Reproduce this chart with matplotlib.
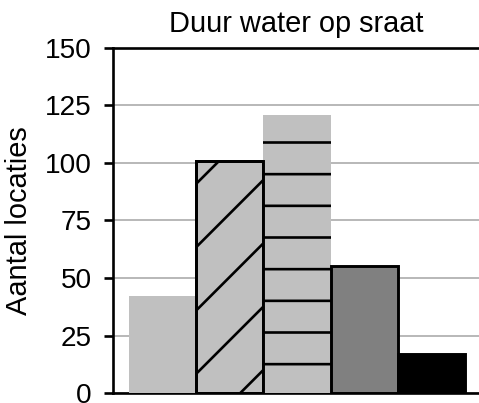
import matplotlib
matplotlib.use("Agg")
import matplotlib.pyplot as plt

categories = ["A", "B", "C", "D", "E"]
values = [42, 101, 121, 55, 17]
yticks = [0, 25, 50, 75, 100, 125, 150]
title = "Duur water op sraat"
ylabel = "Aantal locaties"

DPI = 380
plt.rcParams['font.family'] = ['Liberation Sans', 'DejaVu Sans']
plt.rcParams['hatch.linewidth'] = 0.5

fig = plt.figure(figsize=(479 / DPI, 403 / DPI), dpi=DPI)
ax = fig.add_axes([113 / 479, 10 / 403, 366 / 479, 345 / 403])

x = list(range(len(categories)))
faces = ['#c0c0c0', '#c0c0c0', '#c0c0c0', '#808080', '#000000']
edges = ['#c0c0c0', '#000000', '#c0c0c0', '#000000', '#000000']
hatches = [None, '//', None, None, None]
lws = [0, 0.55, 0, 0.55, 0.55]

for i in x:
    ax.bar(x[i], values[i], width=1.0, color=faces[i], edgecolor=edges[i],
           linewidth=lws[i], hatch=hatches[i], zorder=3)
# horizontal hatch overlay on the third bar
ax.bar(x[2], values[2], width=1.0, facecolor='none', edgecolor='black',
       linewidth=0, hatch='--', zorder=4)
# redraw bar 2 edge on top
ax.bar(x[1], values[1], width=1.0, facecolor='none', edgecolor='black',
       linewidth=0.55, zorder=5)

ax.set_xlim(-0.738, 4.708)
ax.set_ylim(0, 150)
ax.set_yticks(yticks)
ax.set_yticklabels([str(t) for t in yticks], fontsize=5.3)
ax.set_xticks([])
ax.yaxis.grid(True, color='#b4b4b4', linewidth=0.35, zorder=0)
ax.set_axisbelow(True)
ax.tick_params(axis='y', length=1.7, width=0.5, pad=2.3, color='black')

ax.spines['right'].set_visible(False)
for s in ['left', 'bottom', 'top']:
    ax.spines[s].set_linewidth(0.5)
    ax.spines[s].set_color('black')

ax.set_title(title, fontsize=5.5, pad=3.0)
ax.set_ylabel(ylabel, fontsize=5.5)
ax.yaxis.label.set_va('center')
ax.yaxis.set_label_coords((19.5 - 113) / 366, 0.5)

fig.savefig("out.png", dpi=DPI)
